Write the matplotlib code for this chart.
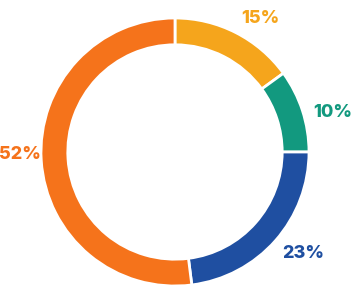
import numpy as np
import matplotlib.pyplot as plt

shares = [15, 10, 23, 52]
labels = ['15%', '10%', '23%', '52%']
colors = ['#F5A51C', '#12997F', '#1F4FA1', '#F5731B']

# where each label sits: angle (deg) and distance from centre, in ring radii
label_ang = [57.6, 14.2, -38.3, 181.0]
label_r = [1.184, 1.216, 1.217, 1.155]

fig = plt.figure(figsize=(3.52, 3.0), dpi=100)
ax = fig.add_axes([0, 0, 1, 1])
wedges, _ = ax.pie(shares, colors=colors, startangle=90, counterclock=False,
                   radius=1.0,
                   wedgeprops=dict(width=0.2, edgecolor='white', linewidth=2))

for lab, col, a, r in zip(labels, colors, label_ang, label_r):
    t = np.deg2rad(a)
    ax.text(r * np.cos(t), r * np.sin(t), lab, color=col,
            ha='center', va='center', fontsize=13, fontweight='heavy',
            family='Inter')

ax.set_xlim(-175 / 134, 177 / 134)
ax.set_ylim(-148 / 134, 152 / 134)
ax.axis('off')
fig.savefig('out.png', dpi=100)
